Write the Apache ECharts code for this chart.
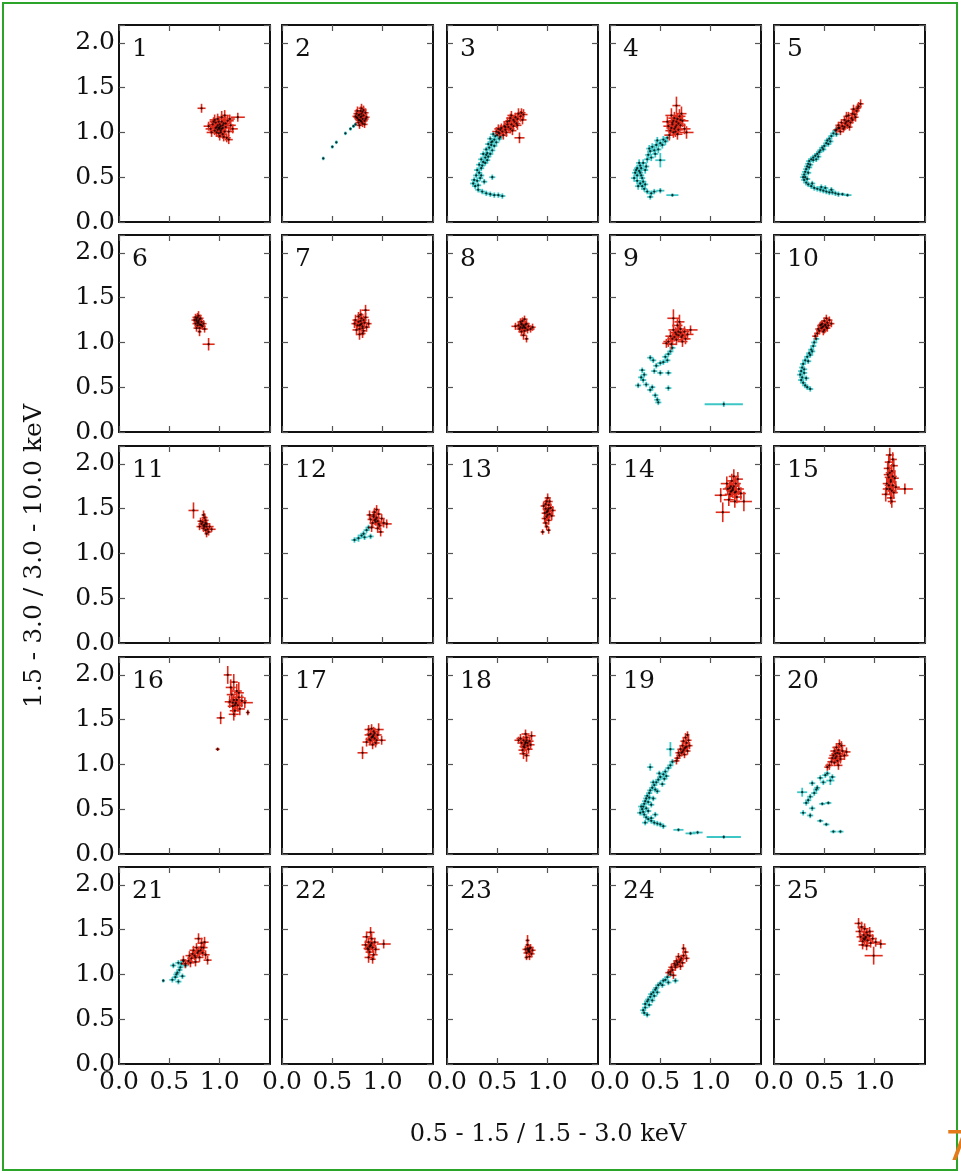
<!DOCTYPE html>
<html><head><meta charset="utf-8">
<script src="https://cdn.jsdelivr.net/npm/echarts@6/dist/echarts.min.js"></script>
<style>html,body{margin:0;padding:0;background:#fff}#c{width:961px;height:1173px}</style>
</head><body><div id="c"></div>
<script>
// ---- data: [x, y, xerr, yerr] ----
var panelLabels=['1','2','3','4','5','6','7','8','9','10','11','12','13','14','15','16','17','18','19','20','21','22','23','24','25'];
var xTicks=[0.0,0.5,1.0,1.5];
var yTicks=[0.0,0.5,1.0,1.5,2.0];
var xAxisTitle='0.5 - 1.5 / 1.5 - 3.0 keV';
var yAxisTitle='1.5 - 3.0 / 3.0 - 10.0 keV';

var red1=[[1.00,1.06,.04,.05],[0.98,1.08,.04,.05],[1.02,1.04,.04,.05],[0.96,1.05,.05,.05],[1.04,1.10,.05,.06],[1.01,1.02,.04,.05],[0.99,1.12,.05,.06],[0.93,1.09,.05,.05],[1.06,1.06,.05,.05],[1.03,0.98,.04,.05],[0.97,1.00,.04,.05],[1.08,1.13,.06,.06],[0.91,1.04,.05,.05],[1.05,1.01,.04,.05],[1.00,0.96,.04,.05],[1.07,0.94,.04,.05],[0.95,1.14,.05,.06],[1.02,1.17,.05,.07],[1.11,1.08,.05,.06],[0.89,1.07,.05,.05],[1.05,1.19,.04,.06],[0.98,1.03,.04,.04],[1.01,1.07,.04,.04],[0.99,1.05,.04,.04],[1.03,1.08,.04,.05],[1.13,1.04,.05,.05],[0.82,1.27,.04,.05],[1.18,1.17,.07,.05],[1.09,0.92,.04,.05],[0.96,1.11,.05,.05],[1.00,1.09,.05,.05],[0.97,1.06,.05,.06],[1.03,1.05,.05,.05],[0.99,0.99,.05,.05],[1.02,1.12,.05,.06],[0.95,1.02,.05,.05],[1.06,1.10,.05,.05],[0.94,1.12,.04,.05],[1.09,1.01,.05,.05],[1.01,1.00,.04,.05],[0.98,1.15,.05,.06],[1.04,0.95,.04,.05],[0.92,1.00,.05,.05],[1.10,1.15,.05,.05],[1.00,1.04,.04,.04]];
var cyan1=[];
var red2=[[0.78,1.17,.03,.04],[0.76,1.19,.03,.04],[0.80,1.15,.03,.04],[0.77,1.14,.03,.04],[0.79,1.21,.03,.05],[0.81,1.19,.03,.04],[0.75,1.16,.03,.04],[0.82,1.13,.03,.04],[0.74,1.21,.03,.05],[0.78,1.24,.03,.05],[0.80,1.10,.03,.04],[0.76,1.11,.03,.04],[0.83,1.22,.03,.05],[0.73,1.18,.03,.04],[0.79,1.27,.03,.05],[0.84,1.17,.03,.04],[0.77,1.08,.03,.04],[0.81,1.25,.03,.05],[0.75,1.24,.03,.05],[0.78,1.13,.03,.04],[0.82,1.09,.03,.04],[0.79,1.18,.03,.04],[0.77,1.20,.03,.04],[0.80,1.23,.03,.04],[0.76,1.14,.03,.04],[0.83,1.15,.03,.04],[0.79,1.12,.03,.04],[0.74,1.17,.03,.04]];
var cyan2=[[0.41,0.71,.015,.02],[0.50,0.84,.015,.02],[0.54,0.89,.015,.02],[0.63,0.99,.015,.02],[0.68,1.04,.015,.02],[0.71,1.07,.015,.02],[0.73,1.09,.015,.02]];
var red3=[[0.61,1.06,.04,.05],[0.58,1.03,.04,.05],[0.64,1.09,.04,.05],[0.55,1.01,.04,.05],[0.67,1.12,.04,.05],[0.60,1.09,.04,.05],[0.63,1.04,.04,.05],[0.52,0.99,.04,.05],[0.70,1.15,.04,.06],[0.57,1.07,.04,.05],[0.66,1.07,.04,.05],[0.73,1.18,.04,.06],[0.49,1.01,.04,.05],[0.62,1.13,.04,.05],[0.69,1.10,.04,.05],[0.54,1.05,.04,.05],[0.75,1.14,.04,.05],[0.59,1.00,.04,.05],[0.71,1.21,.04,.06],[0.65,1.02,.04,.05],[0.56,0.97,.04,.05],[0.76,1.20,.04,.06],[0.68,1.17,.04,.05],[0.72,0.94,.05,.06],[0.63,1.16,.04,.05],[0.53,1.03,.04,.05],[0.60,1.12,.04,.05],[0.66,1.14,.04,.05],[0.58,1.06,.04,.05],[0.70,1.08,.04,.05],[0.64,1.19,.04,.05],[0.74,1.22,.04,.05],[0.51,1.04,.04,.05]];
var cyan3=[[0.55,0.29,.03,.03],[0.51,0.30,.03,.03],[0.47,0.30,.03,.03],[0.43,0.31,.03,.03],[0.39,0.32,.03,.03],[0.35,0.34,.03,.03],[0.31,0.36,.03,.03],[0.28,0.40,.03,.03],[0.26,0.43,.03,.03],[0.27,0.47,.03,.03],[0.30,0.46,.03,.03],[0.29,0.52,.03,.03],[0.32,0.55,.03,.03],[0.30,0.58,.03,.03],[0.34,0.60,.03,.03],[0.32,0.64,.03,.03],[0.36,0.67,.03,.03],[0.34,0.70,.03,.03],[0.38,0.72,.03,.03],[0.36,0.76,.03,.03],[0.40,0.77,.03,.03],[0.39,0.81,.03,.03],[0.42,0.83,.03,.03],[0.41,0.87,.03,.03],[0.44,0.86,.03,.03],[0.45,0.90,.03,.03],[0.43,0.93,.03,.03],[0.47,0.92,.03,.03],[0.48,0.96,.03,.03],[0.46,0.98,.03,.03],[0.50,0.97,.03,.03],[0.51,1.00,.03,.03],[0.53,0.95,.03,.03],[0.49,0.89,.03,.03],[0.45,0.80,.03,.03],[0.38,0.66,.03,.03],[0.41,0.73,.03,.03],[0.45,0.50,.03,.03],[0.34,0.52,.03,.03],[0.37,0.45,.03,.03],[0.31,0.41,.03,.03],[0.43,0.76,.03,.03],[0.47,0.85,.03,.03],[0.40,0.69,.03,.03],[0.33,0.49,.03,.03],[0.35,0.63,.03,.03],[0.39,0.75,.03,.03],[0.44,0.89,.03,.03],[0.52,0.93,.03,.03]];
var red4=[[0.65,1.06,.05,.06],[0.62,1.09,.05,.06],[0.68,1.03,.05,.06],[0.60,1.02,.05,.06],[0.66,1.12,.06,.07],[0.70,1.08,.05,.06],[0.63,1.00,.05,.06],[0.58,1.07,.05,.06],[0.72,1.13,.06,.07],[0.64,1.16,.06,.07],[0.67,0.98,.05,.06],[0.57,1.12,.05,.06],[0.74,1.04,.06,.06],[0.61,1.19,.06,.08],[0.69,1.18,.06,.08],[0.66,1.30,.04,.10],[0.76,1.00,.07,.07],[0.59,0.97,.05,.06],[0.71,1.21,.05,.08],[0.64,1.04,.05,.06],[0.63,1.13,.05,.06],[0.68,1.10,.05,.06],[0.66,1.08,.05,.06],[0.61,1.05,.05,.06],[0.70,1.14,.05,.06],[0.65,1.01,.05,.06],[0.67,1.15,.05,.06],[0.62,1.11,.05,.06]];
var cyan4=[[0.57,0.94,.03,.04],[0.53,0.92,.03,.04],[0.50,0.88,.03,.04],[0.46,0.86,.03,.04],[0.42,0.84,.03,.04],[0.44,0.80,.03,.04],[0.40,0.79,.03,.04],[0.48,0.81,.03,.04],[0.38,0.75,.03,.04],[0.50,0.69,.05,.08],[0.37,0.70,.03,.04],[0.33,0.66,.03,.04],[0.30,0.63,.03,.04],[0.27,0.60,.03,.04],[0.29,0.57,.03,.04],[0.25,0.55,.03,.04],[0.27,0.52,.03,.04],[0.24,0.49,.03,.04],[0.27,0.46,.03,.04],[0.30,0.43,.03,.04],[0.32,0.40,.03,.04],[0.35,0.42,.03,.04],[0.34,0.37,.03,.03],[0.37,0.34,.03,.03],[0.41,0.32,.03,.03],[0.44,0.34,.03,.03],[0.50,0.35,.04,.03],[0.40,0.28,.03,.03],[0.62,0.30,.06,.02],[0.31,0.52,.03,.04],[0.35,0.58,.03,.04],[0.41,0.72,.03,.04],[0.29,0.66,.03,.04],[0.32,0.49,.03,.04],[0.28,0.40,.03,.04],[0.36,0.62,.03,.04],[0.45,0.76,.03,.04],[0.52,0.86,.03,.04],[0.26,0.58,.03,.04],[0.30,0.55,.03,.04],[0.33,0.45,.03,.04],[0.39,0.82,.03,.04],[0.47,0.91,.03,.04],[0.55,0.90,.03,.04],[0.31,0.60,.03,.04]];
var red5=[[0.71,1.10,.03,.04],[0.68,1.07,.03,.04],[0.74,1.13,.03,.04],[0.65,1.05,.03,.04],[0.77,1.16,.03,.05],[0.70,1.14,.03,.04],[0.73,1.08,.03,.04],[0.62,1.03,.03,.04],[0.80,1.20,.03,.05],[0.67,1.11,.03,.04],[0.76,1.11,.03,.04],[0.82,1.24,.03,.05],[0.79,1.26,.03,.05],[0.84,1.29,.03,.05],[0.86,1.32,.03,.05],[0.72,1.18,.03,.05],[0.64,1.08,.03,.04],[0.78,1.21,.03,.05],[0.69,1.04,.03,.04],[0.75,1.06,.03,.04],[0.81,1.17,.03,.05],[0.66,1.01,.03,.04],[0.72,1.12,.03,.04],[0.74,1.19,.03,.04],[0.78,1.14,.03,.04],[0.83,1.27,.03,.05],[0.70,1.06,.03,.04]];
var cyan5=[[0.64,1.05,.03,.03],[0.61,1.02,.03,.03],[0.59,0.99,.03,.03],[0.57,0.96,.03,.03],[0.55,0.93,.03,.03],[0.53,0.91,.03,.03],[0.52,0.88,.03,.03],[0.50,0.85,.03,.03],[0.48,0.83,.03,.03],[0.46,0.80,.03,.03],[0.45,0.78,.03,.03],[0.43,0.76,.03,.03],[0.41,0.74,.03,.03],[0.39,0.72,.03,.03],[0.37,0.70,.03,.03],[0.35,0.68,.03,.03],[0.34,0.65,.03,.03],[0.33,0.62,.03,.03],[0.32,0.59,.03,.03],[0.31,0.56,.03,.03],[0.30,0.53,.03,.03],[0.31,0.50,.03,.03],[0.30,0.47,.03,.03],[0.32,0.44,.03,.03],[0.34,0.42,.03,.03],[0.37,0.40,.03,.03],[0.40,0.38,.03,.03],[0.43,0.37,.03,.03],[0.46,0.36,.03,.03],[0.49,0.35,.03,.03],[0.52,0.34,.03,.03],[0.55,0.33,.03,.03],[0.58,0.33,.03,.03],[0.61,0.32,.03,.03],[0.64,0.31,.03,.03],[0.68,0.31,.03,.02],[0.73,0.30,.04,.02],[0.56,0.90,.03,.03],[0.49,0.81,.03,.03],[0.44,0.73,.03,.03],[0.36,0.64,.03,.03],[0.34,0.55,.03,.03],[0.33,0.48,.03,.03],[0.38,0.43,.03,.03],[0.51,0.38,.03,.03],[0.62,0.98,.03,.03],[0.42,0.70,.03,.03],[0.39,0.69,.03,.03],[0.35,0.61,.03,.03],[0.29,0.50,.03,.03],[0.47,0.39,.03,.03],[0.57,0.36,.03,.03],[0.54,0.87,.03,.03]];
var red6=[[0.79,1.22,.03,.04],[0.77,1.24,.03,.04],[0.81,1.20,.03,.04],[0.78,1.19,.03,.04],[0.80,1.26,.03,.04],[0.76,1.21,.03,.04],[0.82,1.23,.03,.04],[0.78,1.28,.03,.05],[0.80,1.16,.03,.04],[0.75,1.25,.03,.04],[0.83,1.18,.03,.04],[0.79,1.30,.03,.05],[0.77,1.16,.03,.04],[0.81,1.27,.03,.04],[0.84,1.21,.03,.04],[0.80,1.12,.02,.05],[0.76,1.28,.03,.04],[0.79,1.24,.02,.03],[0.85,1.15,.03,.04],[0.89,0.98,.06,.07],[0.78,1.22,.03,.04],[0.80,1.20,.03,.04],[0.77,1.26,.03,.04],[0.82,1.19,.03,.04]];
var cyan6=[];
var red7=[[0.78,1.20,.03,.05],[0.76,1.23,.03,.05],[0.80,1.18,.03,.05],[0.77,1.15,.03,.05],[0.79,1.27,.03,.06],[0.75,1.19,.03,.05],[0.82,1.22,.03,.05],[0.74,1.14,.04,.06],[0.81,1.13,.03,.05],[0.78,1.31,.03,.06],[0.84,1.17,.03,.05],[0.73,1.25,.03,.06],[0.77,1.09,.03,.06],[0.83,1.28,.03,.05],[0.80,1.10,.03,.05],[0.83,1.36,.04,.06],[0.76,1.29,.03,.05],[0.79,1.21,.02,.04],[0.86,1.21,.03,.05],[0.72,1.21,.03,.05],[0.78,1.24,.03,.05],[0.80,1.16,.03,.05],[0.77,1.19,.03,.05],[0.81,1.25,.03,.05]];
var cyan7=[];
var red8=[[0.76,1.18,.03,.04],[0.74,1.20,.03,.04],[0.78,1.16,.03,.04],[0.73,1.17,.03,.04],[0.79,1.21,.03,.04],[0.77,1.13,.03,.04],[0.75,1.24,.03,.04],[0.71,1.19,.04,.04],[0.81,1.18,.03,.04],[0.68,1.18,.04,.04],[0.80,1.14,.04,.04],[0.74,1.12,.03,.05],[0.77,1.26,.03,.04],[0.83,1.15,.04,.04],[0.76,1.08,.03,.05],[0.79,1.04,.02,.04],[0.73,1.23,.03,.04],[0.85,1.17,.03,.04],[0.76,1.19,.02,.03],[0.72,1.15,.03,.04],[0.75,1.16,.03,.04],[0.78,1.20,.03,.04],[0.77,1.17,.03,.04],[0.74,1.21,.03,.04]];
var cyan8=[];
var red9=[[0.68,1.08,.05,.06],[0.65,1.11,.05,.06],[0.71,1.06,.05,.06],[0.62,1.04,.05,.06],[0.74,1.12,.05,.06],[0.66,1.03,.05,.06],[0.70,1.15,.05,.07],[0.58,1.01,.05,.06],[0.77,1.09,.06,.06],[0.63,1.14,.05,.06],[0.72,1.01,.05,.06],[0.80,1.14,.07,.05],[0.61,0.98,.05,.06],[0.67,1.19,.05,.07],[0.63,1.27,.06,.10],[0.69,1.23,.05,.08],[0.56,0.99,.04,.05],[0.75,1.04,.05,.06],[0.66,1.09,.04,.05],[0.70,1.11,.04,.05],[0.64,1.06,.04,.05],[0.68,1.12,.05,.06],[0.72,1.08,.05,.06],[0.60,1.07,.05,.06]];
var cyan9=[[0.62,0.94,.03,.03],[0.60,0.90,.03,.03],[0.58,0.87,.03,.03],[0.55,0.84,.03,.03],[0.57,0.80,.03,.03],[0.53,0.78,.03,.03],[0.50,0.77,.03,.03],[0.43,0.80,.03,.03],[0.40,0.83,.03,.03],[0.46,0.74,.03,.03],[0.50,0.66,.03,.03],[0.58,0.66,.03,.03],[0.44,0.68,.03,.03],[0.32,0.69,.03,.03],[0.34,0.64,.03,.03],[0.31,0.61,.03,.03],[0.33,0.58,.03,.03],[0.28,0.52,.03,.03],[0.36,0.53,.03,.03],[0.42,0.50,.03,.03],[0.40,0.47,.03,.03],[0.58,0.49,.03,.03],[0.45,0.41,.03,.03],[0.47,0.36,.03,.03],[0.48,0.33,.03,.03],[1.13,0.31,.19,.03]];
var red10=[[0.49,1.18,.03,.04],[0.47,1.16,.03,.04],[0.51,1.20,.03,.04],[0.45,1.13,.03,.04],[0.53,1.22,.03,.04],[0.48,1.21,.03,.04],[0.50,1.14,.03,.04],[0.43,1.10,.03,.04],[0.55,1.25,.03,.04],[0.46,1.19,.03,.04],[0.52,1.17,.03,.04],[0.54,1.19,.03,.04],[0.44,1.15,.03,.04],[0.50,1.24,.03,.04],[0.41,1.07,.03,.04],[0.57,1.21,.03,.04],[0.49,1.12,.03,.04],[0.52,1.27,.03,.04],[0.48,1.17,.03,.04],[0.51,1.19,.03,.04],[0.47,1.20,.03,.04],[0.53,1.16,.03,.04]];
var cyan10=[[0.42,1.04,.03,.03],[0.40,1.00,.03,.03],[0.39,0.96,.03,.03],[0.37,0.92,.03,.03],[0.35,0.88,.03,.03],[0.33,0.84,.03,.03],[0.31,0.80,.03,.03],[0.29,0.76,.03,.03],[0.28,0.72,.03,.03],[0.27,0.68,.03,.03],[0.26,0.64,.03,.03],[0.28,0.61,.03,.03],[0.27,0.58,.03,.03],[0.29,0.55,.03,.03],[0.31,0.52,.03,.03],[0.33,0.50,.03,.03],[0.36,0.48,.03,.03],[0.30,0.70,.03,.03],[0.34,0.79,.03,.03],[0.38,0.90,.03,.03],[0.32,0.60,.03,.03],[0.36,0.86,.03,.03],[0.30,0.66,.03,.03]];
var red11=[[0.85,1.32,.03,.04],[0.83,1.35,.03,.04],[0.87,1.30,.03,.04],[0.84,1.28,.03,.04],[0.86,1.37,.03,.05],[0.82,1.33,.03,.04],[0.88,1.27,.03,.04],[0.85,1.40,.03,.05],[0.89,1.24,.03,.04],[0.81,1.36,.03,.04],[0.87,1.22,.02,.04],[0.84,1.43,.02,.05],[0.90,1.30,.04,.04],[0.80,1.30,.03,.04],[0.86,1.34,.02,.03],[0.74,1.48,.05,.09],[0.92,1.27,.04,.03],[0.85,1.30,.03,.04],[0.87,1.33,.03,.04],[0.84,1.31,.03,.04],[0.86,1.26,.03,.04]];
var cyan11=[];
var red12=[[0.93,1.38,.03,.05],[0.91,1.41,.03,.05],[0.95,1.36,.03,.05],[0.90,1.34,.03,.05],[0.96,1.44,.03,.05],[0.92,1.46,.03,.05],[0.97,1.31,.03,.05],[0.88,1.38,.03,.05],[0.99,1.39,.03,.05],[0.94,1.49,.03,.05],[0.89,1.29,.03,.05],[0.95,1.28,.03,.05],[1.01,1.34,.04,.05],[0.87,1.43,.03,.05],[1.04,1.33,.05,.05],[0.93,1.35,.02,.04],[0.98,1.24,.03,.05],[0.94,1.40,.03,.05],[0.92,1.37,.03,.05],[0.96,1.33,.03,.05],[0.91,1.43,.03,.05]];
var cyan12=[[0.72,1.15,.03,.03],[0.76,1.17,.03,.04],[0.79,1.20,.03,.03],[0.81,1.22,.03,.03],[0.84,1.26,.03,.03],[0.86,1.29,.03,.03],[0.82,1.18,.03,.03],[0.88,1.19,.03,.03]];
var red13=[[1.00,1.47,.03,.05],[0.98,1.50,.03,.05],[1.02,1.44,.03,.05],[0.99,1.41,.03,.05],[1.01,1.54,.03,.05],[0.97,1.45,.03,.05],[1.03,1.51,.03,.05],[0.99,1.58,.03,.05],[1.01,1.37,.03,.05],[0.96,1.53,.03,.05],[1.04,1.42,.03,.05],[1.00,1.62,.03,.05],[0.98,1.34,.03,.05],[1.02,1.58,.03,.05],[0.97,1.39,.03,.05],[1.05,1.48,.03,.05],[0.99,1.30,.02,.04],[0.95,1.24,.02,.03],[1.01,1.26,.02,.04],[1.00,1.48,.02,.04],[0.99,1.46,.03,.05],[1.01,1.50,.03,.05],[1.00,1.43,.03,.05],[0.98,1.55,.03,.05]];
var cyan13=[];
var red14=[[1.22,1.71,.05,.07],[1.20,1.75,.05,.07],[1.24,1.68,.05,.07],[1.19,1.66,.05,.07],[1.25,1.78,.05,.08],[1.21,1.81,.05,.08],[1.26,1.63,.05,.07],[1.17,1.72,.05,.07],[1.28,1.72,.05,.07],[1.23,1.86,.05,.08],[1.18,1.60,.05,.07],[1.24,1.58,.05,.07],[1.16,1.78,.06,.08],[1.27,1.83,.05,.08],[1.12,1.46,.07,.11],[1.33,1.58,.08,.11],[1.10,1.65,.06,.08],[1.22,1.73,.04,.06],[1.20,1.69,.04,.06],[1.30,1.67,.05,.07],[1.21,1.70,.05,.07],[1.23,1.75,.05,.07],[1.19,1.73,.05,.07],[1.25,1.69,.05,.07]];
var cyan14=[];
var red15=[[1.16,1.80,.04,.07],[1.14,1.85,.04,.07],[1.18,1.76,.04,.07],[1.15,1.72,.04,.07],[1.17,1.92,.04,.08],[1.13,1.95,.04,.08],[1.19,1.68,.04,.07],[1.14,2.02,.04,.08],[1.18,2.05,.04,.08],[1.12,1.78,.04,.07],[1.20,1.84,.04,.07],[1.16,1.62,.04,.07],[1.13,1.88,.04,.07],[1.19,1.98,.04,.08],[1.11,1.66,.04,.08],[1.21,1.74,.04,.07],[1.15,2.10,.04,.08],[1.17,1.58,.04,.07],[1.30,1.72,.08,.06],[1.12,1.72,.04,.07],[1.16,1.82,.03,.05],[1.15,1.90,.04,.07],[1.18,1.86,.04,.07],[1.14,1.76,.04,.07],[1.17,1.70,.04,.07]];
var cyan15=[];
var red16=[[1.16,1.69,.05,.07],[1.14,1.72,.05,.07],[1.18,1.66,.05,.07],[1.13,1.65,.05,.07],[1.19,1.75,.05,.07],[1.12,1.78,.05,.08],[1.20,1.62,.05,.07],[1.15,1.60,.05,.07],[1.17,1.82,.05,.08],[1.10,1.70,.05,.07],[1.22,1.71,.05,.07],[1.11,1.86,.05,.09],[1.14,1.56,.05,.07],[1.08,2.00,.04,.10],[1.14,1.92,.04,.09],[1.25,1.69,.08,.06],[1.01,1.52,.04,.07],[0.98,1.17,.02,.02],[1.28,1.58,.02,.03],[1.19,1.80,.05,.12],[1.16,1.68,.04,.05],[1.15,1.66,.05,.07],[1.17,1.72,.05,.07],[1.13,1.69,.05,.07]];
var cyan16=[];
var red17=[[0.90,1.31,.04,.05],[0.88,1.34,.04,.05],[0.92,1.29,.04,.05],[0.87,1.28,.04,.05],[0.91,1.37,.04,.05],[0.86,1.33,.04,.05],[0.93,1.24,.04,.05],[0.89,1.40,.04,.05],[0.95,1.33,.04,.05],[0.84,1.25,.04,.05],[0.90,1.22,.04,.05],[0.96,1.39,.05,.07],[0.94,1.27,.04,.05],[0.86,1.39,.04,.05],[0.80,1.13,.05,.07],[0.99,1.27,.04,.05],[0.90,1.31,.03,.04],[0.89,1.30,.04,.05],[0.91,1.33,.04,.05],[0.88,1.27,.04,.05],[0.92,1.35,.04,.05]];
var cyan17=[];
var red18=[[0.78,1.24,.04,.05],[0.76,1.27,.04,.05],[0.80,1.21,.04,.05],[0.77,1.19,.04,.05],[0.79,1.30,.04,.05],[0.74,1.24,.04,.05],[0.82,1.26,.04,.05],[0.78,1.34,.04,.05],[0.75,1.16,.04,.05],[0.81,1.17,.04,.05],[0.73,1.29,.04,.05],[0.84,1.32,.04,.05],[0.76,1.12,.04,.06],[0.79,1.10,.03,.07],[0.83,1.22,.04,.05],[0.71,1.27,.04,.04],[0.78,1.25,.03,.04],[0.77,1.22,.04,.05],[0.79,1.27,.04,.05],[0.80,1.24,.04,.05],[0.76,1.20,.04,.05]];
var cyan18=[];
var red19=[[0.73,1.16,.03,.04],[0.71,1.13,.03,.04],[0.75,1.19,.03,.04],[0.69,1.10,.03,.04],[0.76,1.24,.03,.05],[0.72,1.21,.03,.04],[0.74,1.11,.03,.04],[0.67,1.07,.03,.04],[0.78,1.27,.03,.05],[0.70,1.17,.03,.04],[0.77,1.15,.03,.04],[0.75,1.30,.03,.05],[0.66,1.04,.03,.04],[0.79,1.21,.03,.04],[0.73,1.26,.03,.04],[0.68,1.13,.03,.04],[0.77,1.33,.02,.04],[0.74,1.18,.03,.04],[0.72,1.14,.03,.04],[0.76,1.20,.03,.04]];
var cyan19=[[0.62,1.03,.03,.03],[0.60,0.99,.03,.03],[0.58,0.96,.03,.03],[0.55,0.92,.03,.03],[0.53,0.89,.03,.03],[0.50,0.86,.03,.03],[0.48,0.83,.03,.03],[0.46,0.80,.03,.03],[0.44,0.77,.03,.03],[0.42,0.74,.03,.03],[0.40,0.71,.03,.03],[0.39,0.68,.03,.03],[0.37,0.65,.03,.03],[0.36,0.62,.03,.03],[0.35,0.59,.03,.03],[0.34,0.56,.03,.03],[0.33,0.53,.03,.03],[0.32,0.50,.03,.03],[0.33,0.47,.03,.03],[0.34,0.44,.03,.03],[0.36,0.41,.03,.03],[0.38,0.39,.03,.03],[0.41,0.37,.03,.03],[0.44,0.35,.03,.03],[0.47,0.34,.03,.03],[0.50,0.33,.03,.03],[0.53,0.31,.03,.03],[0.43,0.62,.03,.03],[0.41,0.55,.03,.03],[0.38,0.48,.03,.03],[0.45,0.44,.03,.03],[0.47,0.70,.03,.03],[0.52,0.78,.03,.03],[0.56,0.87,.03,.03],[0.40,0.97,.03,.04],[0.43,0.80,.03,.03],[0.60,1.17,.04,.08],[0.68,0.27,.05,.02],[0.80,0.23,.05,.02],[0.87,0.24,.05,.02],[1.13,0.19,.17,.02],[0.30,0.46,.03,.03],[0.35,0.35,.03,.03],[0.38,0.58,.03,.03],[0.36,0.51,.03,.03],[0.45,0.72,.03,.03],[0.31,0.53,.03,.03],[0.39,0.63,.03,.03],[0.49,0.90,.03,.03],[0.41,0.40,.03,.03],[0.54,0.84,.03,.03]];
var red20=[[0.61,1.07,.04,.05],[0.59,1.10,.04,.05],[0.63,1.04,.04,.05],[0.57,1.03,.04,.05],[0.65,1.12,.04,.05],[0.60,1.15,.04,.05],[0.66,1.06,.04,.05],[0.55,0.99,.04,.05],[0.68,1.15,.04,.05],[0.62,1.19,.04,.05],[0.58,1.07,.04,.05],[0.70,1.10,.04,.05],[0.64,0.99,.04,.05],[0.53,0.97,.03,.04],[0.67,1.21,.04,.05],[0.72,1.14,.04,.05],[0.63,1.13,.03,.04],[0.60,1.02,.03,.04],[0.65,1.23,.03,.05],[0.62,1.09,.04,.05],[0.64,1.16,.04,.05],[0.61,1.12,.04,.05],[0.66,1.09,.04,.05]];
var cyan20=[[0.58,0.86,.03,.03],[0.53,0.90,.03,.03],[0.56,0.82,.04,.05],[0.46,0.85,.03,.03],[0.49,0.80,.03,.03],[0.38,0.79,.03,.03],[0.43,0.74,.03,.03],[0.28,0.69,.05,.05],[0.36,0.64,.03,.03],[0.40,0.68,.03,.03],[0.32,0.57,.03,.03],[0.38,0.51,.03,.03],[0.48,0.56,.03,.02],[0.54,0.57,.03,.02],[0.29,0.46,.03,.03],[0.36,0.43,.03,.03],[0.46,0.37,.03,.02],[0.52,0.33,.03,.02],[0.59,0.25,.03,.02],[0.66,0.25,.03,.02],[0.42,0.72,.03,.03],[0.51,0.88,.03,.03],[0.34,0.60,.03,.03]];
var red21=[[0.78,1.24,.04,.05],[0.75,1.21,.04,.05],[0.81,1.27,.04,.05],[0.72,1.18,.04,.05],[0.84,1.30,.04,.05],[0.77,1.30,.04,.05],[0.80,1.19,.04,.05],[0.69,1.15,.04,.05],[0.86,1.22,.04,.05],[0.74,1.27,.04,.05],[0.82,1.35,.04,.06],[0.66,1.12,.04,.05],[0.88,1.16,.04,.05],[0.79,1.40,.04,.06],[0.70,1.21,.04,.05],[0.85,1.36,.04,.06],[0.76,1.14,.04,.05],[0.83,1.24,.03,.04],[0.73,1.23,.03,.04],[0.64,1.16,.03,.05],[0.79,1.26,.04,.05],[0.76,1.19,.04,.05],[0.82,1.30,.04,.05],[0.71,1.13,.04,.05]];
var cyan21=[[0.44,0.93,.015,.02],[0.53,0.94,.03,.03],[0.59,0.92,.03,.03],[0.54,1.10,.03,.03],[0.61,1.08,.03,.03],[0.64,1.15,.03,.03],[0.58,1.02,.03,.03],[0.63,0.98,.03,.03],[0.56,0.97,.03,.03],[0.60,1.05,.03,.03],[0.62,1.12,.03,.03],[0.57,1.00,.03,.03],[0.66,1.10,.03,.03],[0.59,1.13,.03,.03]];
var red22=[[0.88,1.33,.04,.05],[0.86,1.36,.04,.05],[0.90,1.30,.04,.05],[0.85,1.29,.04,.05],[0.89,1.40,.04,.06],[0.87,1.25,.04,.05],[0.92,1.36,.04,.05],[0.84,1.42,.04,.06],[0.91,1.22,.04,.05],[0.86,1.19,.04,.06],[0.93,1.28,.04,.05],[0.88,1.47,.04,.06],[0.83,1.33,.04,.05],[1.01,1.34,.07,.05],[0.90,1.17,.03,.05],[0.88,1.32,.03,.04],[0.87,1.31,.04,.05],[0.89,1.35,.04,.05],[0.86,1.28,.04,.05]];
var cyan22=[];
var red23=[[0.81,1.27,.03,.04],[0.80,1.29,.03,.04],[0.82,1.25,.03,.04],[0.79,1.24,.03,.04],[0.83,1.30,.03,.04],[0.80,1.33,.02,.04],[0.84,1.23,.03,.04],[0.78,1.28,.03,.04],[0.82,1.20,.03,.04],[0.85,1.27,.03,.04],[0.79,1.19,.02,.03],[0.80,1.38,.02,.06],[0.81,1.28,.02,.03],[0.81,1.26,.03,.04],[0.82,1.29,.03,.04]];
var cyan23=[];
var red24=[[0.67,1.11,.03,.04],[0.65,1.08,.03,.04],[0.69,1.14,.03,.04],[0.62,1.05,.03,.04],[0.71,1.18,.03,.04],[0.66,1.15,.03,.04],[0.70,1.09,.03,.04],[0.60,1.03,.03,.04],[0.73,1.21,.03,.05],[0.64,1.12,.03,.04],[0.72,1.13,.03,.04],[0.75,1.25,.03,.05],[0.58,1.02,.03,.04],[0.68,1.20,.03,.04],[0.63,0.99,.03,.04],[0.76,1.18,.03,.04],[0.73,1.29,.02,.05],[0.61,1.08,.03,.04],[0.67,1.13,.03,.04],[0.70,1.16,.03,.04],[0.65,1.10,.03,.04]];
var cyan24=[[0.60,1.00,.03,.03],[0.57,0.97,.03,.03],[0.55,0.94,.03,.03],[0.53,0.93,.03,.03],[0.50,0.90,.03,.03],[0.48,0.88,.03,.03],[0.46,0.85,.03,.03],[0.45,0.83,.03,.03],[0.43,0.80,.03,.03],[0.41,0.78,.03,.03],[0.40,0.75,.03,.03],[0.38,0.72,.03,.03],[0.37,0.70,.03,.03],[0.35,0.67,.03,.03],[0.35,0.63,.03,.03],[0.33,0.60,.03,.03],[0.34,0.57,.03,.03],[0.37,0.55,.03,.03],[0.52,0.88,.03,.03],[0.47,0.80,.03,.03],[0.44,0.76,.03,.03],[0.65,0.93,.03,.03],[0.58,0.91,.03,.03],[0.42,0.71,.03,.03],[0.39,0.66,.03,.03]];
var red25=[[0.91,1.41,.04,.05],[0.89,1.44,.04,.05],[0.93,1.38,.04,.05],[0.88,1.37,.04,.05],[0.92,1.47,.04,.05],[0.86,1.42,.04,.05],[0.95,1.43,.04,.05],[0.90,1.51,.04,.06],[0.96,1.35,.04,.05],[0.85,1.48,.04,.05],[0.98,1.40,.04,.05],[0.84,1.57,.04,.06],[1.01,1.36,.05,.05],[1.06,1.34,.05,.05],[0.92,1.32,.04,.05],[0.99,1.21,.09,.10],[0.87,1.53,.04,.06],[0.91,1.42,.03,.04],[0.90,1.39,.04,.05],[0.93,1.44,.04,.05],[0.89,1.40,.04,.05],[0.88,1.33,.04,.05],[0.95,1.48,.04,.05]];
var cyan25=[];

var reds=[red1,red2,red3,red4,red5,red6,red7,red8,red9,red10,red11,red12,red13,red14,red15,red16,red17,red18,red19,red20,red21,red22,red23,red24,red25];
var cyans=[cyan1,cyan2,cyan3,cyan4,cyan5,cyan6,cyan7,cyan8,cyan9,cyan10,cyan11,cyan12,cyan13,cyan14,cyan15,cyan16,cyan17,cyan18,cyan19,cyan20,cyan21,cyan22,cyan23,cyan24,cyan25];

// ---- layout ----
var colLeft=[119,282,447,610,774], rowTop=[25,235,446,657,867], PW=151, PH=197;
var FONT='"DejaVu Serif", serif';
var RED='#e02a1a', CYAN='#3cc6c6';

function errRender(color,w){
  return function(params, api){
    var x=api.value(0), y=api.value(1), ex=api.value(2), ey=api.value(3);
    var l=api.coord([x-ex,y]), r=api.coord([x+ex,y]), t=api.coord([x,y+ey]), b=api.coord([x,y-ey]);
    var st={stroke:color,lineWidth:w};
    return {type:'group',children:[
      {type:'line',shape:{x1:l[0],y1:l[1],x2:r[0],y2:r[1]},style:st},
      {type:'line',shape:{x1:t[0],y1:t[1],x2:b[0],y2:b[1]},style:st}
    ]};
  };
}

var grids=[],xAxes=[],yAxes=[],series=[],graphics=[];
for(var i=0;i<25;i++){
  var r=Math.floor(i/5), c=i%5;
  grids.push({left:colLeft[c],top:rowTop[r],width:PW,height:PH});
  var line={show:true,onZero:false,lineStyle:{color:'#111',width:2}};
  var tick={show:true,inside:true,length:6,lineStyle:{color:'#555',width:1.2}};
  var xl={show:r===4,fontFamily:FONT,fontSize:25,color:'#111',margin:6,showMaxLabel:false,
          formatter:function(v){return v>xTicks[xTicks.length-1]-0.01?'':v.toFixed(1);}};
  var yl={show:c===0,fontFamily:FONT,fontSize:25,color:'#111',margin:4,
          formatter:function(v){return v>yTicks[yTicks.length-1]+0.01?'':v.toFixed(1);}};
  xAxes.push({gridIndex:i,type:'value',min:xTicks[0],max:xTicks[xTicks.length-1],interval:0.5,position:'bottom',axisLine:line,axisTick:tick,axisLabel:xl,splitLine:{show:false}});
  xAxes.push({gridIndex:i,type:'value',min:xTicks[0],max:xTicks[xTicks.length-1],interval:0.5,position:'top',axisLine:line,axisTick:tick,axisLabel:{show:false},splitLine:{show:false}});
  yAxes.push({gridIndex:i,type:'value',min:0,max:2.2,interval:0.5,position:'left',axisLine:line,axisTick:tick,axisLabel:yl,splitLine:{show:false}});
  yAxes.push({gridIndex:i,type:'value',min:0,max:2.2,interval:0.5,position:'right',axisLine:line,axisTick:tick,axisLabel:{show:false},splitLine:{show:false}});
  series.push({type:'custom',xAxisIndex:2*i,yAxisIndex:2*i,data:cyans[i],renderItem:errRender(CYAN,1.8),encode:{x:0,y:1},z:2,silent:true,clip:true});
  series.push({type:'custom',xAxisIndex:2*i,yAxisIndex:2*i,data:reds[i],renderItem:errRender(RED,1.6),encode:{x:0,y:1},z:3,silent:true,clip:true});
  series.push({type:'scatter',xAxisIndex:2*i,yAxisIndex:2*i,data:cyans[i].concat(reds[i]),symbolSize:2.3,itemStyle:{color:'#000'},z:4,silent:true});
  graphics.push({type:'text',x:colLeft[c]+13,y:rowTop[r]+24,style:{text:panelLabels[i],font:'25px '+FONT,fill:'#111',align:'left',verticalAlign:'middle'}});
}
graphics.push({type:'text',x:548,y:1135,style:{text:xAxisTitle,font:'24px '+FONT,fill:'#111',align:'center',verticalAlign:'middle'}});
graphics.push({type:'text',rotation:Math.PI/2,x:34,y:556,style:{text:yAxisTitle,font:'25px '+FONT,fill:'#111',align:'center',verticalAlign:'middle'}});
graphics.push({type:'rect',shape:{x:3,y:3,width:954,height:1167},style:{fill:'none',stroke:'#2aa52a',lineWidth:2}});
graphics.push({type:'text',x:945,y:1130,style:{text:'7',font:'40px "DejaVu Sans", sans-serif',fill:'#e57a1a'}});

var chart=echarts.init(document.getElementById('c'),null,{renderer:'canvas'});
chart.setOption({animation:false,backgroundColor:'#fff',grid:grids,xAxis:xAxes,yAxis:yAxes,series:series,graphic:graphics});
</script></body></html>
